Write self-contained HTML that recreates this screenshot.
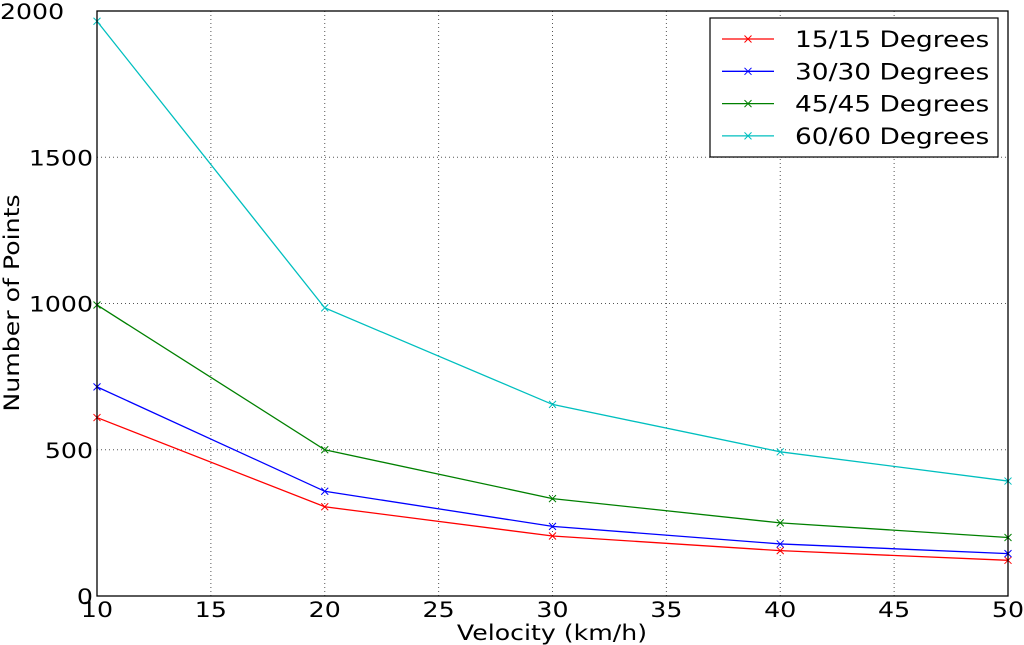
<!DOCTYPE html>
<html><head><meta charset="utf-8">
<style>
html,body{margin:0;padding:0;background:#fff;}
svg{display:block;font-family:"DejaVu Sans","Liberation Sans",sans-serif;}
</style></head>
<body>
<svg id="chart" width="1024" height="645" xmlns="http://www.w3.org/2000/svg"></svg>
<script>
const categories = [10, 20, 30, 40, 50];
const seriesNames = ["15/15 Degrees", "30/30 Degrees", "45/45 Degrees", "60/60 Degrees"];
const series15 = [610, 305, 205, 155, 122];
const series30 = [715, 358, 238, 178, 145];
const series45 = [995, 500, 333, 250, 200];
const series60 = [1965, 985, 655, 493, 393];
const xTicks = [10, 15, 20, 25, 30, 35, 40, 45, 50];
const yTicks = [0, 500, 1000, 1500, 2000];
const colors = ["#ff0000", "#0000ff", "#008000", "#00bfbf"];

const L = 97, R = 1008, T = 11, B = 596;
const xs = v => L + (v - 10) / 40 * (R - L);
const ys = v => B - v / 2000 * (B - T);
const NS = "http://www.w3.org/2000/svg";
const svg = document.getElementById("chart");
const texts = [];
function mk(tag, attrs, parent) {
  const e = document.createElementNS(NS, tag);
  for (const k in attrs) e.setAttribute(k, attrs[k]);
  (parent || svg).appendChild(e);
  if (tag === "text") texts.push(e);
  return e;
}
const grid = mk("g", {});


xTicks.forEach(t => {
  const l = mk("line", {x1: xs(t), x2: xs(t), y1: T, y2: B, stroke: "#555", "stroke-width": 1, "stroke-dasharray": "1,3"}, grid);
  
  
});
yTicks.forEach(t => {
  const l = mk("line", {x1: L, x2: R, y1: ys(t), y2: ys(t), stroke: "#555", "stroke-width": 1, "stroke-dasharray": "1,3"}, grid);
  
  
});
const allSeries = [series15, series30, series45, series60];
allSeries.forEach((s, i) => {
  const g = mk("g", {});
  
  
  const pts = s.map((v, j) => xs(categories[j]) + "," + ys(v)).join(" ");
  const pl = mk("polyline", {points: pts, fill: "none", stroke: colors[i], "stroke-width": 1.3}, g);
  
  
  s.forEach((v, j) => {
    const x = xs(categories[j]), y = ys(v), d = 3.5;
    const m = mk("path", {d: `M${x-d},${y-d}L${x+d},${y+d}M${x-d},${y+d}L${x+d},${y-d}`, stroke: colors[i], "stroke-width": 1}, g);
    
    
  });
});
const frame = mk("rect", {x: L, y: T, width: R - L, height: B - T, fill: "none", stroke: "#000", "stroke-width": 1.3});


xTicks.forEach(t => {
  const tx = mk("text", {x: xs(t), y: B + 21, "font-size": 21, "text-anchor": "middle", fill: "#000"});
  tx.textContent = t;
  
  
});
yTicks.forEach(t => {
  const top = t === yTicks[yTicks.length - 1];
  const tx = mk("text", top ? {x: 0, y: ys(t) + 8, "font-size": 21, "text-anchor": "start"}
                            : {x: L - 4, y: ys(t) + 8, "font-size": 21, "text-anchor": "end"});
  tx.textContent = t;
  
  
});
const xl = mk("text", {x: 552, y: 640, "font-size": 21, "text-anchor": "middle"});
xl.textContent = "Velocity (km/h)";


const yl = mk("text", {x: 0, y: 0, "font-size": 21, "text-anchor": "middle", transform: "translate(19,303) rotate(-90)"});
yl.textContent = "Number of Points";


const lg = mk("g", {});


mk("rect", {x: 710, y: 18, width: 288, height: 139, fill: "#fff", stroke: "#000", "stroke-width": 1.2}, lg);
seriesNames.forEach((n, i) => {
  const y = 39 + i * 32.3;
  const e = mk("g", {}, lg);
  
  
  mk("line", {x1: 722, x2: 774, y1: y, y2: y, stroke: colors[i], "stroke-width": 1.3}, e);
  mk("path", {d: `M744.5,${y-3.5}L751.5,${y+3.5}M744.5,${y+3.5}L751.5,${y-3.5}`, stroke: colors[i], "stroke-width": 1}, e);
  const t = mk("text", {x: 795, y: y + 8, "font-size": 22}, e);
  t.textContent = n;
});
texts.forEach(t => {
  const w = t.getComputedTextLength();
  t.setAttribute("textLength", (w * 1.2).toFixed(1));
  t.setAttribute("lengthAdjust", "spacingAndGlyphs");
});
</script>
</body></html>
